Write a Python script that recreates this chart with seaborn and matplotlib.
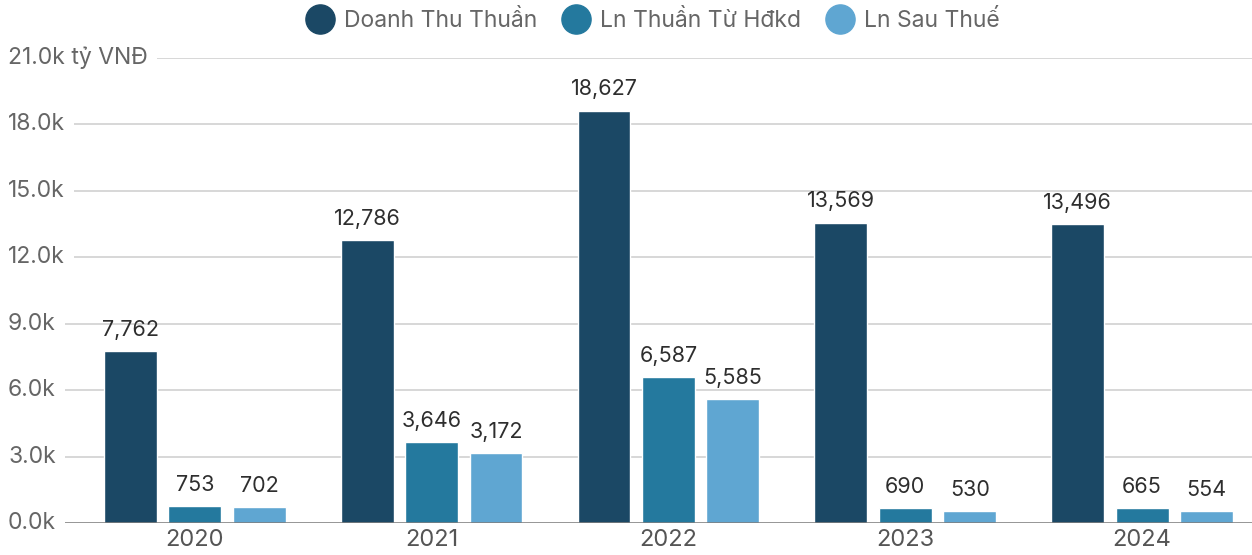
import numpy as np
import pandas as pd
import seaborn as sns
import matplotlib.pyplot as plt
from matplotlib.lines import Line2D

years = ['2020', '2021', '2022', '2023', '2024']
series = ['Doanh Thu Thuần', 'Ln Thuần Từ Hđkd', 'Ln Sau Thuế']
doanh_thu = [7762, 12786, 18627, 13569, 13496]
ln_hdkd = [753, 3646, 6587, 690, 665]
ln_sau_thue = [702, 3172, 5585, 530, 554]
colors = ['#1b4865', '#24799e', '#5fa6d2']

df = pd.DataFrame({
    'year': years * 3,
    'series': [s for s in series for _ in years],
    'value': doanh_thu + ln_hdkd + ln_sau_thue,
})

sns.set_theme(style='white')
plt.rcParams['font.family'] = ['Inter', 'DejaVu Sans']

fig = plt.figure(figsize=(12.52, 5.55), dpi=100)
ax = fig.add_axes([8 / 1252, 1 - 523 / 555, 1 - 8 / 1252, (523 - 58) / 555])

sns.barplot(data=df, x='year', y='value', hue='series', palette=colors,
            width=0.816, gap=0.18, saturation=1, legend=False, ax=ax)

ax.set_xlim(-0.789, 4.464)
ax.set_ylim(0, 21000)

for c in ax.containers:
    ax.bar_label(c, labels=[f'{v:,.0f}' for v in c.datavalues], padding=8,
                 fontsize=15.5, color='#2e2e2e', clip_on=False)

# gridlines + y labels (labels sit on a white box that hides the grid start)
yticks = np.arange(0, 21001, 3000)
for y in yticks:
    ax.axhline(y, color='#d4d4d4' if y > 0 else '#777777', lw=1.3 if y > 0 else 1.8,
               zorder=0 if y > 0 else 3)
    lab = f'{y / 1000:.1f}k' + (' tỷ VNĐ' if y == 21000 else '')
    ax.text(0, y, lab, transform=ax.get_yaxis_transform(), ha='left', va='center',
            fontsize=16.5, color='#666666', zorder=4,
            bbox=dict(boxstyle='square,pad=0.4', fc='white', ec='none'))

ax.set_yticks([])
ax.tick_params(axis='x', length=0, labelsize=17, labelcolor='#555555', pad=4)
ax.set_xlabel('')
ax.set_ylabel('')
for s in ax.spines.values():
    s.set_visible(False)

handles = [Line2D([], [], marker='o', ls='', markersize=21, color=c) for c in colors]
fig.legend(handles, series, loc='center', bbox_to_anchor=(0.518, 1 - 21 / 555), ncol=3,
           frameon=False, fontsize=16.5, labelcolor='#666666', handletextpad=0.05,
           columnspacing=0.7)

fig.savefig('out.png', dpi=100)
